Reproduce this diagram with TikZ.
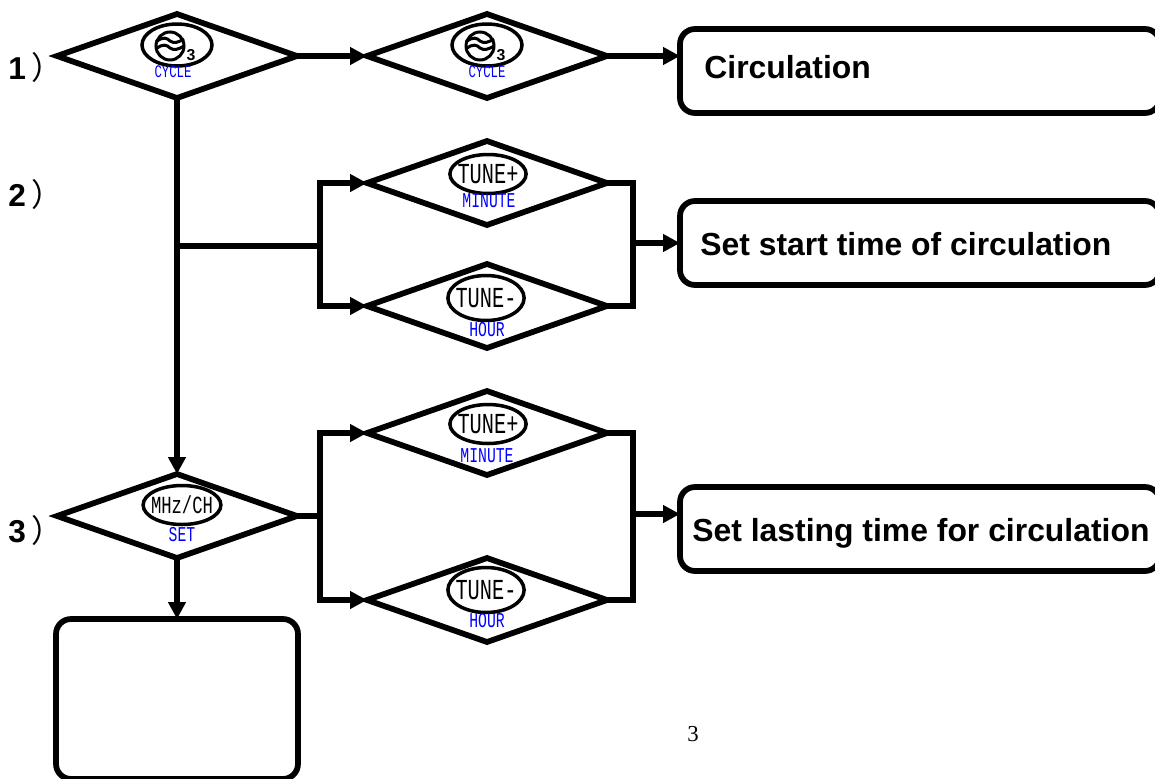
\documentclass[tikz,border=0pt]{standalone}
\usepackage{fontspec}
\setmainfont{Liberation Sans}
\newfontfamily\cjk{Noto Sans CJK SC}
\newfontfamily\keyfont[FakeStretch=0.7]{Liberation Mono}
\newfontfamily\pagefont{Liberation Serif}
\usetikzlibrary{shapes.geometric,arrows.meta}
\tikzset{
    heavy/.style = {line width=0.115cm, line cap=butt, miter limit=10},
    arrowline/.style = {heavy, -{Triangle[length=0.34cm,width=0.34cm]}},
    decision/.style = {diamond, draw, heavy, inner sep=0, outer sep=0, minimum width=4.8cm, minimum height=1.68cm},
    flowbox/.style = {rectangle, draw, heavy, rounded corners=0.3cm, inner sep=0, outer sep=0, minimum height=1.68cm},
    keyoval/.style = {ellipse, draw, line width=0.07cm, inner sep=-0.07cm, outer sep=0, minimum width=1.5cm, minimum height=0.78cm, font=\keyfont\fontsize{16.5}{18}\selectfont},
    keyname/.style = {text=blue, inner sep=0, font=\keyfont\fontsize{12}{13}\selectfont},
    boxtext/.style = {anchor=west, inner sep=0, font=\bfseries\fontsize{18.15}{20}\selectfont},
    steplabel/.style = {anchor=west, inner sep=0, font=\bfseries\fontsize{18}{20}\selectfont},
    cycleicon/.pic = {
        \node[ellipse, draw, line width=0.07cm, inner sep=0, minimum width=1.4cm, minimum height=0.84cm] (-oval) at (0,0) {};
        \draw[line width=0.06cm] (-7,1) circle (14);
        \draw[line width=0.06cm] (-21,-3) .. controls (-14,-9) and (-10,-7) .. (-7,-4) .. controls (-3,-1) and (2,-3) .. (7,-6);
        \draw[line width=0.06cm] (-21,4) .. controls (-14,-2) and (-10,0) .. (-7,3) .. controls (-3,6) and (2,4) .. (7,1);
        \node[inner sep=0, font=\bfseries\fontsize{9}{10}\selectfont] (-num) at (14,10) {3};
    }
}
\begin{document}
\begin{tikzpicture}[x=0.02cm, y=-0.02cm]
    \useasboundingbox (0,0) rectangle (1155,778);

    \node[decision] (cycleA) at (177,56) {};
    \node[decision] (cycleB) at (487,56) {};
    \node[decision] (minuteA) at (487,183) {};
    \node[decision] (hourA) at (487,306) {};
    \node[decision] (minuteB) at (487,433) {};
    \node[decision] (hourB) at (487,600) {};
    \node[decision] (setkey) at (177,516) {};

    \pic (iconA) at (177,45) {cycleicon};
    \pic (iconB) at (487,45) {cycleicon};
    \node[keyname, font=\keyfont\fontsize{10}{11}\selectfont] (cycleAname) at (173,72) {CYCLE};
    \node[keyname, font=\keyfont\fontsize{10}{11}\selectfont] (cycleBname) at (487,72) {CYCLE};

    \node[keyoval] (tuneupA) at (488,174) {TUNE+};
    \node[keyname] (minuteAname) at (489,201) {MINUTE};
    \node[keyoval, minimum height=0.9cm] (tunedownA) at (486,298) {TUNE-};
    \node[keyname] (hourAname) at (487,330) {HOUR};
    \node[keyoval] (tuneupB) at (488,424) {TUNE+};
    \node[keyname] (minuteBname) at (487,456) {MINUTE};
    \node[keyoval, minimum height=0.9cm] (tunedownB) at (486,590) {TUNE-};
    \node[keyname] (hourBname) at (487,621) {HOUR};
    \node[keyoval, font=\keyfont\fontsize{14}{15}\selectfont] (mhz) at (182,505) {MHz/CH};
    \node[keyname] (setname) at (182,535) {SET};

    \node[flowbox, minimum width=9.6cm, anchor=west] (boxA) at (680,71) {};
    \node[flowbox, minimum width=9.6cm, anchor=west] (boxB) at (680,243) {};
    \node[flowbox, minimum width=9.6cm, anchor=west] (boxC) at (680,529) {};
    \node[flowbox, minimum width=4.84cm, minimum height=3.2cm, anchor=north] (boxD) at (177,619) {};

    \node[boxtext] (textA) at (704,67) {Circulation};
    \node[boxtext] (textB) at (700,244) {Set start time of circulation};
    \node[boxtext] (textC) at (692,533) {Set lasting time for circulation};

    \node[steplabel] (stepA) at (8,67) {1\kern3pt{\cjk\mdseries ）}};
    \node[steplabel] (stepB) at (8,194) {2\kern3pt{\cjk\mdseries ）}};
    \node[steplabel] (stepC) at (8,530) {3\kern3pt{\cjk\mdseries ）}};
    \node[inner sep=0, font=\pagefont\fontsize{13}{14}\selectfont] (pagenum) at (693,734) {3};

    \coordinate (splitA) at (177,246);
    \coordinate (railA) at (320,246);
    \coordinate (mergeA) at (633,243);
    \coordinate (railB) at (320,516);
    \coordinate (mergeB) at (633,514);

    \draw[arrowline] (cycleA.east) -- (cycleB.west);
    \draw[arrowline] (cycleB.east) -- (cycleB.east -| boxA.west);
    \draw[arrowline] (cycleA.south) -- (setkey.north);
    \draw[arrowline] (setkey.south) -- (boxD.north);

    \draw[heavy] (splitA) -- (railA);
    \draw[arrowline] (railA) |- (minuteA.west);
    \draw[arrowline] (railA) |- (hourA.west);
    \draw[heavy] (minuteA.east) -| (mergeA) |- (hourA.east);
    \draw[arrowline] (mergeA) -- (mergeA -| boxB.west);

    \draw[heavy] (setkey.east) -- (railB);
    \draw[arrowline] (railB) |- (minuteB.west);
    \draw[arrowline] (railB) |- (hourB.west);
    \draw[heavy] (minuteB.east) -| (mergeB) |- (hourB.east);
    \draw[arrowline] (mergeB) -- (mergeB -| boxC.west);
\end{tikzpicture}
\end{document}
